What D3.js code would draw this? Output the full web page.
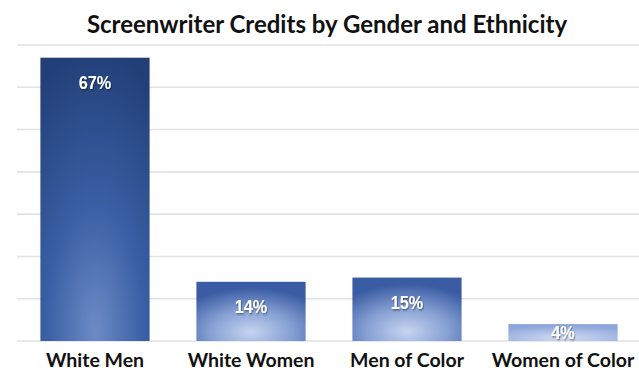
<!DOCTYPE html>
<html>
<head>
<meta charset="utf-8">
<script src="https://cdn.jsdelivr.net/npm/d3@7"></script>
<style>
  html, body { margin: 0; padding: 0; background: #ffffff; }
  svg { display: block; }
</style>
</head>
<body>
<svg id="chart" width="639" height="370"></svg>
<script>
const title = "Screenwriter Credits by Gender and Ethnicity";
const categories = ["White Men", "White Women", "Men of Color", "Women of Color"];
const values = [67, 14, 15, 4];
const valueLabels = ["67%", "14%", "15%", "4%"];
const yTicks = [0, 10, 20, 30, 40, 50, 60, 70];
// gradient palette per bar: [centre, middle, edge]
const barPalette = [
  ["#6d8bc6", "#3a5fa4", "#223f78"],
  ["#c6d4ef", "#86a0d4", "#3a5ca3"],
  ["#c6d4ef", "#86a0d4", "#3a5ca3"],
  ["#cfdbf2", "#b0c2e8", "#8ea6da"]
];

const svg = d3.select("#chart");
const W = 639, H = 370;

const x = d3.scaleBand().domain(categories).range([17, 641]).paddingInner(0.3).paddingOuter(0.15);
const y = d3.scaleLinear().domain([0, 70]).range([341, 45]);

const defs = svg.append("defs");
categories.forEach((c, i) => {
  const g = defs.append("radialGradient")
    .attr("id", "grad" + i)
    .attr("cx", 0.5).attr("cy", i === 0 ? 0.97 : 0.85)
    .attr("fx", 0.5).attr("fy", i === 0 ? 0.97 : 0.85)
    .attr("r", i === 0 ? 1.0 : 0.75);
  const p = barPalette[i];
  g.append("stop").attr("offset", "0%").attr("stop-color", p[0]);
  g.append("stop").attr("offset", i === 0 ? "45%" : "50%").attr("stop-color", p[1]);
  g.append("stop").attr("offset", "100%").attr("stop-color", p[2]);
});
const shadow = defs.append("filter").attr("id", "shadow").attr("x", "-20%").attr("y", "-20%").attr("width", "140%").attr("height", "140%");
shadow.append("feDropShadow").attr("dx", 1).attr("dy", 1.2).attr("stdDeviation", 0.9)
  .attr("flood-color", "#000").attr("flood-opacity", 0.45);

// gridlines
svg.append("g").selectAll("line").data(yTicks).join("line")
  .attr("x1", 17).attr("x2", W)
  .attr("y1", d => y(d)).attr("y2", d => y(d))
  .attr("stroke", "#e1e1e8").attr("stroke-width", 1.6);

// title
svg.append("text")
  .attr("x", 327).attr("y", 33)
  .attr("text-anchor", "middle")
  .attr("font-family", "Lato, 'Open Sans', sans-serif")
  .attr("font-weight", 700)
  .attr("font-size", 24)
  .attr("fill", "#111")
  .text(title);

// bars
svg.append("g").selectAll("rect").data(values).join("rect")
  .attr("x", (d, i) => x(categories[i]))
  .attr("width", x.bandwidth())
  .attr("y", d => y(d))
  .attr("height", d => y(0) - y(d))
  .attr("fill", (d, i) => `url(#grad${i})`);

// value labels (condensed)
svg.append("g").selectAll("text").data(values).join("text")
  .attr("transform", (d, i) => `translate(${x(categories[i]) + x.bandwidth() / 2},${Math.min(y(d) + 31, y(0) - 2)}) scale(0.88,1)`)
  .attr("text-anchor", "middle")
  .attr("font-family", "'Liberation Sans', Arial, sans-serif")
  .attr("font-weight", 700)
  .attr("font-size", 18.5)
  .attr("fill", "#ffffff")
  .attr("filter", "url(#shadow)")
  .text((d, i) => valueLabels[i]);

// x axis labels
const xAxis = d3.axisBottom(x).tickSize(0).tickPadding(0);
const gx = svg.append("g").attr("transform", `translate(0,${y(0)})`).call(xAxis);
gx.select(".domain").remove();
gx.selectAll("text")
  .attr("y", 26)
  .attr("dy", null)
  .attr("font-family", "Lato, 'Open Sans', sans-serif")
  .attr("font-weight", 700)
  .attr("font-size", 19.5)
  .attr("fill", "#111");
</script>
</body>
</html>
